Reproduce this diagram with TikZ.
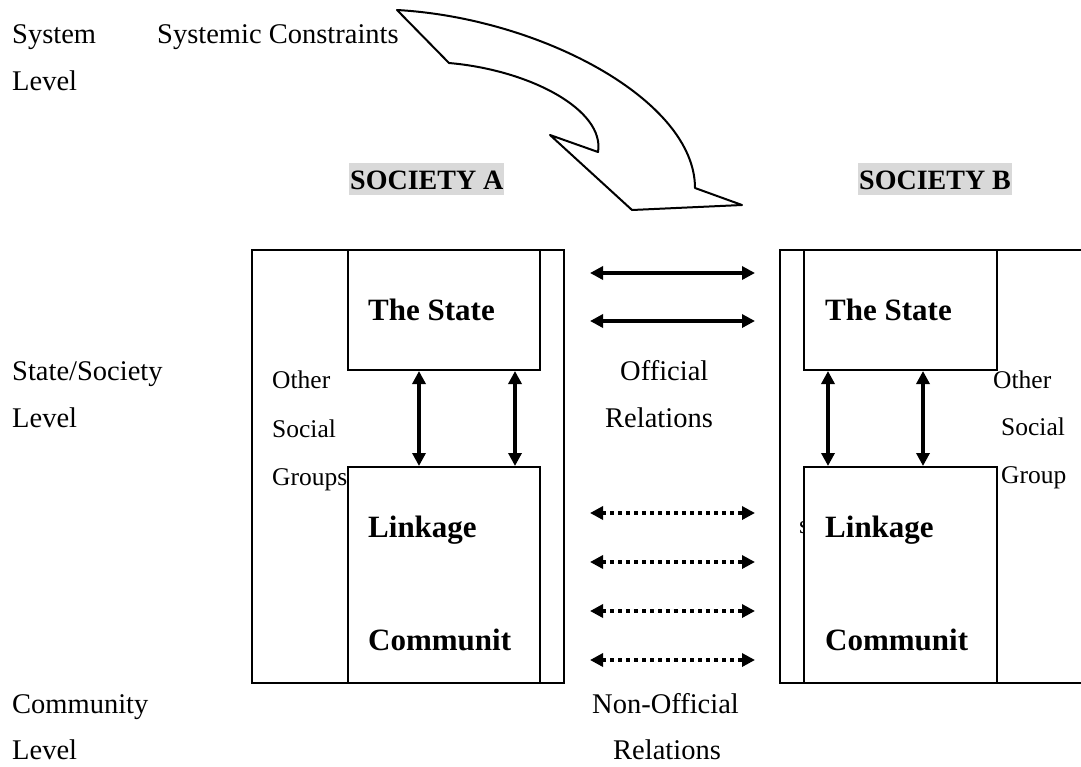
\documentclass[tikz,border=0pt]{standalone}
\usepackage{fontspec}
\setmainfont{Liberation Serif}
\usetikzlibrary{arrows.meta,positioning}
\begin{document}
\begin{tikzpicture}[x=1pt,y=-1pt,
  box/.style={draw,line width=2pt,fill=white,anchor=north west,inner sep=0pt},
  lbl/.style={anchor=base west,inner sep=0pt,font=\fontsize{28.5}{34}\selectfont},
  small/.style={anchor=base west,inner sep=0pt,font=\fontsize{25.5}{30}\selectfont},
  bold/.style={anchor=base west,inner sep=0pt,font=\fontsize{31}{36}\selectfont\bfseries},
  soc/.style={anchor=base west,inner xsep=1pt,inner ysep=0pt,text height=26pt,text depth=6pt,
    fill=black!15,font=\fontsize{28}{32}\selectfont\bfseries},
  both/.style={{Triangle[length=13pt,width=13pt]}-{Triangle[length=13pt,width=13pt]},line width=3.4pt},
  dots/.style={both,dash pattern=on 3.5pt off 4.5pt}]
  \useasboundingbox (0,0) rectangle (1081,766);
  \clip (0,0) rectangle (1081,766);
  % level labels on the left
  \node[lbl] (sys1) at (12,43) {System};
  \node[lbl] (sys2) at (12,90) {Level};
  \node[lbl] (st1) at (12,380) {State/Society};
  \node[lbl] (st2) at (12,427) {Level};
  \node[lbl] (com1) at (12,713) {Community};
  \node[lbl] (com2) at (12,759) {Level};
  \node[lbl] (constr) at (157,43) {Systemic Constraints};
  % big bent arrow
  \draw[line width=2pt,line join=round] (397,10) .. controls (540,18) and (695,100) .. (695,188)
    -- (742,205) -- (632,210) -- (550,135) -- (598,152)
    .. controls (605,110) and (530,70) .. (449,63) -- cycle;
  \node[soc] (socA) at (349,189) {SOCIETY A};
  \node[soc] (socB) at (858,189) {SOCIETY B};
  % society A
  \node[box,minimum width=312pt,minimum height=433pt] (outerA) at (251,249) {};
  \node[small] (othA1) at (272,388) {Other};
  \node[small] (othA2) at (272,437) {Social};
  \node[small] (othA3) at (272,485) {Groups};
  \node[box,minimum width=192pt,minimum height=120pt] (stateA) at (347,249) {};
  \node[box,minimum width=192pt,minimum height=216pt] (linkA) at (347,466) {};
  % society B (runs off the page)
  \node[box,minimum width=330pt,minimum height=433pt] (outerB) at (779,249) {};
  \node[small] (othB1) at (993,388) {Other};
  \node[small] (othB2) at (1001,435) {Social};
  \node[small] (othB3) at (1001,483) {Group};
  \node[small] (othB4) at (799,533) {s};
  \node[box,minimum width=193pt,minimum height=120pt] (stateB) at (803,249) {};
  \node[box,minimum width=193pt,minimum height=216pt] (linkB) at (803,466) {};
  \foreach \s/\x in {A/368,B/825} { % texts in the boxes
    \node[bold] (stt\s) at (\x,320) {The State};
    \node[bold] (lnk\s) at (\x,537) {Linkage};
    \node[bold] (cmm\s) at (\x,650) {Communit};
  }
  \foreach \s/\a/\b in {A/72/168,B/25/120} { % state <-> linkage
    \draw[both] ([xshift=\a pt]state\s.south west) -- ([xshift=\a pt]link\s.north west);
    \draw[both] ([xshift=\b pt]state\s.south west) -- ([xshift=\b pt]link\s.north west);
  }
  % relations between A and B
  \foreach \dy in {24,72}
    \draw[both] ([shift={(25pt,-\dy pt)}]outerA.north east) -- ([shift={(-24pt,-\dy pt)}]outerB.north west);
  \foreach \dy in {264,313,362,411}
    \draw[dots] ([shift={(25pt,-\dy pt)}]outerA.north east) -- ([shift={(-24pt,-\dy pt)}]outerB.north west);
  \node[lbl] (off1) at (620,380) {Official};
  \node[lbl] (off2) at (605,427) {Relations};
  \node[lbl] (non1) at (592,713) {Non-Official};
  \node[lbl] (non2) at (613,759) {Relations};
\end{tikzpicture}
\end{document}
